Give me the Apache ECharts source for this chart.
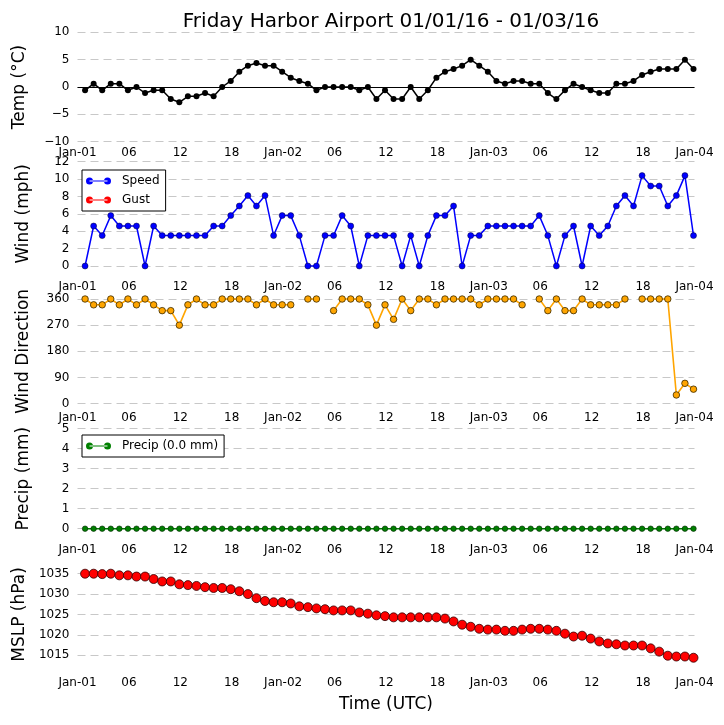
<!DOCTYPE html>
<html>
<head>
<meta charset="utf-8">
<title>Friday Harbor Airport</title>
<script src="https://cdn.jsdelivr.net/npm/echarts@6/dist/echarts.min.js"></script>
<style>
  html, body { margin: 0; padding: 0; background: #fff; }
  #chart { width: 724px; height: 725px; }
</style>
</head>
<body>
<div id="chart"></div>
<script>
// observations every hour at :53, hours counted from Jan-01 00:00 UTC
const obsCount = 72;
const obsMinute = 53;
const dayLabels = ['Jan-01', 'Jan-02', 'Jan-03', 'Jan-04'];

const tempC = [
  -0.6, 0.6, -0.6, 0.6, 0.6, -0.6, 0, -1.1, -0.6, -0.6,
  -2.2, -2.8, -1.7, -1.7, -1.1, -1.7, 0, 1.1, 2.8, 3.9,
  4.4, 3.9, 3.9, 2.8, 1.7, 1.1, 0.6, -0.6, 0, 0,
  0, 0, -0.6, 0, -2.2, -0.6, -2.2, -2.2, 0, -2.2,
  -0.6, 1.7, 2.8, 3.3, 3.9, 5.0, 3.9, 2.8, 1.1, 0.6,
  1.1, 1.1, 0.6, 0.6, -1.1, -2.2, -0.6, 0.6, 0, -0.6,
  -1.1, -1.1, 0.6, 0.6, 1.1, 2.2, 2.8, 3.3, 3.3, 3.3,
  5.0, 3.3
];

const windSpeed = [
  0, 4.6, 3.5, 5.8, 4.6, 4.6, 4.6, 0, 4.6, 3.5,
  3.5, 3.5, 3.5, 3.5, 3.5, 4.6, 4.6, 5.8, 6.9, 8.1,
  6.9, 8.1, 3.5, 5.8, 5.8, 3.5, 0, 0, 3.5, 3.5,
  5.8, 4.6, 0, 3.5, 3.5, 3.5, 3.5, 0, 3.5, 0,
  3.5, 5.8, 5.8, 6.9, 0, 3.5, 3.5, 4.6, 4.6, 4.6,
  4.6, 4.6, 4.6, 5.8, 3.5, 0, 3.5, 4.6, 0, 4.6,
  3.5, 4.6, 6.9, 8.1, 6.9, 10.4, 9.2, 9.2, 6.9, 8.1,
  10.4, 3.5
];

const windGust = [];

const windDir = [
  360, 340, 340, 360, 340, 360, 340, 360, 340, 320,
  320, 270, 340, 360, 340, 340, 360, 360, 360, 360,
  340, 360, 340, 340, 340, null, 360, 360, null, 320,
  360, 360, 360, 340, 270, 340, 290, 360, 320, 360,
  360, 340, 360, 360, 360, 360, 340, 360, 360, 360,
  360, 340, null, 360, 320, 360, 320, 320, 360, 340,
  340, 340, 340, 360, null, 360, 360, 360, 360, 30,
  70, 50
];

const precipMm = [
  0, 0, 0, 0, 0, 0, 0, 0, 0, 0, 0, 0, 0, 0, 0, 0, 0, 0,
  0, 0, 0, 0, 0, 0, 0, 0, 0, 0, 0, 0, 0, 0, 0, 0, 0, 0,
  0, 0, 0, 0, 0, 0, 0, 0, 0, 0, 0, 0, 0, 0, 0, 0, 0, 0,
  0, 0, 0, 0, 0, 0, 0, 0, 0, 0, 0, 0, 0, 0, 0, 0, 0, 0
];

const mslp = [
  1035.0, 1035.0, 1034.9, 1035.0, 1034.6, 1034.6, 1034.3, 1034.3, 1033.7, 1033.1,
  1033.1, 1032.4, 1032.2, 1032.0, 1031.7, 1031.5, 1031.5, 1031.2, 1030.7, 1030.0,
  1029.0, 1028.3, 1028.0, 1028.0, 1027.7, 1027.0, 1026.8, 1026.5, 1026.3, 1026.0,
  1026.0, 1026.0, 1025.5, 1025.2, 1024.8, 1024.6, 1024.3, 1024.3, 1024.3, 1024.3,
  1024.3, 1024.3, 1024.0, 1023.3, 1022.5, 1022.0, 1021.5, 1021.3, 1021.3, 1021.0,
  1021.0, 1021.3, 1021.5, 1021.5, 1021.3, 1021.0, 1020.3, 1019.6, 1019.8, 1019.1,
  1018.4, 1017.9, 1017.7, 1017.4, 1017.4, 1017.4, 1016.7, 1015.9, 1014.9, 1014.7,
  1014.7, 1014.4
];

const obsHours = [];
for (let i = 0; i < obsCount; i++) obsHours.push(i + obsMinute / 60);

function pairs(vals) {
  return vals.map((v, i) => [obsHours[i], v == null ? '-' : v]);
}

const FONT = 'DejaVu Sans';
const left = 77.5, right = 29.5;

// panel placement: [top, height, xLabelMargin]
const panels = [
  [32.3, 109.4, 5],
  [161.7, 104.3, 15],
  [299, 104.7, 8],
  [428.7, 100, 15],
  [573.7, 81.6, 22]
];

function hourLabel(v) {
  if (v % 24 === 0) return dayLabels[v / 24];
  return String(v % 24).padStart(2, '0');
}

// two markers joined by a line, like the legend handles of the original
const legendIcon = 'path://M0,3.5a3.5,3.5 0 1 0 7,0a3.5,3.5 0 1 0 -7,0z' +
  'M3.5,2.9L21.5,2.9L21.5,4.1L3.5,4.1z' +
  'M18,3.5a3.5,3.5 0 1 0 7,0a3.5,3.5 0 1 0 -7,0z';

const grids = panels.map(p => ({ left: left, right: right, top: p[0], height: p[1] }));

const xAxes = panels.map((p, i) => ({
  type: 'value', gridIndex: i, min: 0, max: 72, interval: 6,
  axisLine: { show: false }, axisTick: { show: false }, splitLine: { show: false },
  axisLabel: { margin: p[2], color: '#000', fontSize: 12, fontFamily: FONT, formatter: hourLabel },
  name: i === 4 ? 'Time (UTC)' : '',
  nameLocation: 'middle', nameGap: 41,
  nameTextStyle: { color: '#000', fontSize: 17, fontFamily: FONT }
}));

const yNames = ['Temp (°C)', 'Wind (mph)', 'Wind Direction', 'Precip (mm)', 'MSLP (hPa)'];
const yRanges = [[-10, 10, 5], [0, 12, 2], [0, 360, 90], [0, 5, 1], [1015, 1035, 5]];

const yAxes = yRanges.map((r, i) => ({
  type: 'value', gridIndex: i, min: r[0], max: r[1], interval: r[2],
  axisLine: { show: false }, axisTick: { show: false },
  splitLine: { show: true, lineStyle: { color: '#c8c8c8', type: [8, 5], width: 1 } },
  axisLabel: {
    margin: 8, color: '#000', fontSize: 12, fontFamily: FONT,
    formatter: v => (v < 0 ? '\u2212' + (-v) : String(v))
  },
  name: yNames[i], nameLocation: 'middle', nameGap: i === 0 ? 49 : 45,
  nameTextStyle: { color: '#000', fontSize: 17, fontFamily: FONT }
}));

const legendBase = {
  orient: 'vertical', left: 82,
  padding: [4, 6, 4, 4], itemGap: 5, itemWidth: 25, itemHeight: 7,
  icon: legendIcon, backgroundColor: '#fff', borderColor: '#000', borderWidth: 1,
  borderRadius: 0, itemStyle: { borderWidth: 0 },
  textStyle: { color: '#000', fontSize: 12, fontFamily: FONT, lineHeight: 14, padding: [0, 0, 0, 6] },
  selectedMode: false
};

const option = {
  animation: false,
  backgroundColor: '#fff',
  textStyle: { fontFamily: FONT },
  title: {
    text: 'Friday Harbor Airport 01/01/16 - 01/03/16',
    left: 386, top: 7, textAlign: 'center',
    textStyle: { color: '#000', fontSize: 20, fontWeight: 'normal', fontFamily: FONT }
  },
  grid: grids,
  xAxis: xAxes,
  yAxis: yAxes,
  legend: [
    Object.assign({}, legendBase, { data: ['Speed', 'Gust'], top: 170 }),
    Object.assign({}, legendBase, { data: ['Precip (0.0 mm)'], top: 435 })
  ],
  series: [
    {
      name: 'Temp', type: 'line', xAxisIndex: 0, yAxisIndex: 0, clip: false,
      data: pairs(tempC), symbol: 'circle', symbolSize: 6,
      lineStyle: { color: '#000', width: 1.5 }, itemStyle: { color: '#000' },
      markLine: {
        silent: true, symbol: 'none', label: { show: false },
        lineStyle: { color: '#000', width: 1, type: 'solid' },
        data: [{ yAxis: 0 }]
      }
    },
    {
      name: 'Speed', type: 'line', xAxisIndex: 1, yAxisIndex: 1, clip: false,
      data: pairs(windSpeed), symbol: 'circle', symbolSize: 6,
      lineStyle: { color: '#0000ff', width: 1.5 },
      itemStyle: { color: '#0000ff', borderColor: '#000033', borderWidth: 0.5 }
    },
    {
      name: 'Gust', type: 'line', xAxisIndex: 1, yAxisIndex: 1,
      data: pairs(windGust), symbol: 'circle', symbolSize: 6,
      lineStyle: { color: '#ff0000', width: 1.5 }, itemStyle: { color: '#ff0000' }
    },
    {
      name: 'Wind Direction', type: 'line', xAxisIndex: 2, yAxisIndex: 2, clip: false,
      data: pairs(windDir), symbol: 'circle', symbolSize: 6.5, connectNulls: false,
      lineStyle: { color: '#ffa500', width: 1.6 },
      itemStyle: { color: '#ffa500', borderColor: '#3a2a00', borderWidth: 0.8 }
    },
    {
      name: 'Precip (0.0 mm)', type: 'line', xAxisIndex: 3, yAxisIndex: 3, clip: false,
      data: pairs(precipMm), symbol: 'circle', symbolSize: 5.5,
      lineStyle: { color: '#008000', width: 1.5 },
      itemStyle: { color: '#008000', borderColor: '#002000', borderWidth: 0.6 }
    },
    {
      name: 'MSLP', type: 'line', xAxisIndex: 4, yAxisIndex: 4, clip: false,
      data: pairs(mslp), symbol: 'circle', symbolSize: 9,
      lineStyle: { color: '#ff0000', width: 1 },
      itemStyle: { color: '#ff0000', borderColor: '#300000', borderWidth: 0.8 }
    }
  ]
};

const chart = echarts.init(document.getElementById('chart'), null, { renderer: 'canvas' });
chart.setOption(option);
</script>
</body>
</html>
